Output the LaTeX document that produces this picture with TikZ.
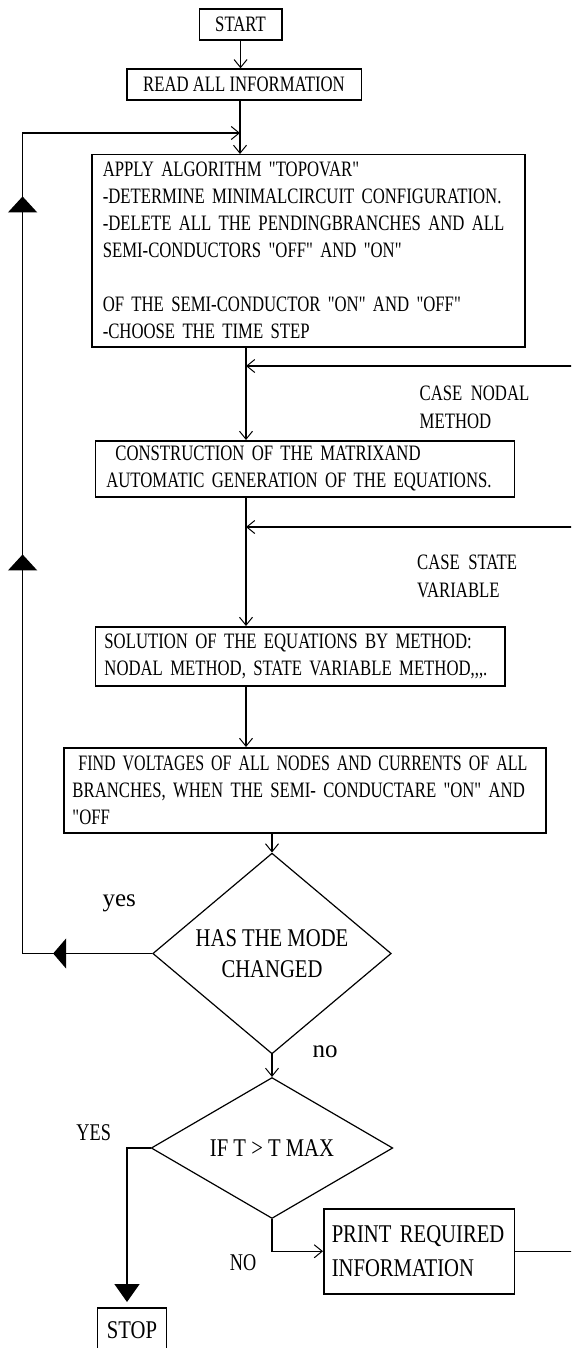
\documentclass[tikz,border=0pt]{standalone}
\usepackage{graphicx}
\usepackage{fontspec}
\setmainfont{Liberation Serif}
\newfontfamily\boxfont[FakeStretch=0.76]{Liberation Serif}
\newfontfamily\bigfont[FakeStretch=0.81]{Liberation Serif}
\usetikzlibrary{arrows.meta,shapes.geometric,decorations.markings}
\tikzset{
  line/.style={line width=1.5pt},
  conn/.style={line, -{Straight Barb[length=8pt,width=13pt,line width=1pt]}},
  box/.style={draw, line width=1.5pt, rectangle, anchor=north west, inner ysep=0pt,
    align=left, font=\boxfont\fontsize{22}{27}\selectfont},
  sbox/.style={draw, line width=1.5pt, rectangle, anchor=north west, inner sep=0pt,
    align=center, font=\boxfont\fontsize{22}{27}\selectfont},
  dec/.style={draw, diamond, line width=1.2pt, inner sep=0pt, align=center,
    font=\bigfont\fontsize{25.5}{31}\selectfont},
  lab/.style={inner sep=0pt, align=left, anchor=west, font=\boxfont\fontsize{22}{28}\selectfont},
  lowlab/.style={inner sep=0pt, font=\fontsize{25}{30}\selectfont},
  caplab/.style={inner sep=0pt, font=\boxfont\fontsize{24}{30}\selectfont},
  filltip/.style={-{Triangle[length=18pt,width=25pt]}}
}
\begin{document}
\begin{tikzpicture}[x=1pt,y=-1pt]
\useasboundingbox (0,0) rectangle (571,1348);
\clip (0,0) rectangle (571,1348);

% boxes
\node[sbox, minimum width=82.6pt, minimum height=31pt] (start) at (198.5,8.3) {START};
\node[sbox, minimum width=234.5pt, minimum height=31.2pt] (read) at (126,68.3) {READ ALL INFORMATION};
\node[box, text width=411.4pt, inner xsep=11pt, minimum height=192pt] (apply) at (91,154)
  {\mbox{APPLY ALGORITHM "TOPOVAR"}\\
   \mbox{-DETERMINE MINIMALCIRCUIT CONFIGURATION.}\\
   \mbox{-DELETE ALL THE PENDINGBRANCHES AND ALL}\\
   \mbox{SEMI-CONDUCTORS "OFF" AND "ON"}\\[27pt]
   \mbox{OF THE SEMI-CONDUCTOR "ON" AND "OFF"}\\
   \mbox{-CHOOSE THE TIME STEP}};
\node[box, text width=397pt, inner xsep=10.9pt, minimum height=56pt] (constr) at (94.7,440)
  {\mbox{\hspace*{9pt}CONSTRUCTION OF THE MATRIXAND}\\\mbox{AUTOMATIC GENERATION OF THE EQUATIONS.}};
\node[box, text width=391.7pt, inner xsep=9pt, minimum height=59pt] (sol) at (94.7,626)
  {\mbox{SOLUTION OF THE EQUATIONS BY METHOD:}\\\mbox{NODAL METHOD, STATE VARIABLE METHOD,,,.}};
\node[box, text width=464.6pt, inner xsep=8.7pt, minimum height=85pt] (find) at (63,747)
  {\mbox{\hspace*{6pt}\scalebox{0.955}[1]{FIND VOLTAGES OF ALL NODES AND CURRENTS OF ALL}}\\
   \mbox{BRANCHES, WHEN THE SEMI- CONDUCTARE "ON" AND}\\
   "OFF};
\node[box, font=\bigfont\fontsize{25.5}{34}\selectfont, text width=174.5pt, inner xsep=8pt,
  minimum height=85pt] (print) at (323,1208) {\mbox{PRINT REQUIRED}\\INFORMATION};
\node[sbox, font=\bigfont\fontsize{25.5}{30}\selectfont, minimum width=69pt, minimum height=44pt]
  (stop) at (96.7,1307) {STOP};

% decisions
\node[dec, minimum width=238.5pt, minimum height=177pt] (d1) at (272,953.5) {HAS THE MODE\\CHANGED};
\node[dec, minimum width=241.6pt, minimum height=135pt] (d2) at (272,1148) {IF T > T MAX};

% labels
\node[lab] (lnodal) at (419.5,407) {CASE\ \ NODAL\\METHOD};
\node[lab] (lstate) at (417,576.5) {CASE\ \ STATE\\VARIABLE};
\node[lowlab] (lyes) at (119.3,903) {yes};
\node[lowlab] (lno) at (325,1052) {no};
\node[caplab] (lYES) at (93.7,1132.5) {YES};
\node[caplab] (lNO) at (243,1262.5) {NO};

% helper coordinates
\coordinate (fb) at (240,133);
\coordinate (m1) at (246,366);
\coordinate (m2) at (246,527);
\coordinate (rx) at (576,1250);
\coordinate (sy) at (127,1300);

% main flow
\draw[conn] (start.south) -- (start.south |- read.north);
\draw[conn] (read.south -| fb) -- (apply.north -| fb);
\draw[conn] (apply.south -| m1) -- (constr.north -| m1);
\draw[conn] (constr.south -| m1) -- (sol.north -| m1);
\draw[conn] (sol.south -| m1) -- (find.north -| m1);
\draw[conn] (find.south -| d1.north) -- (d1.north);
\draw[conn] (d1.south) -- (d2.north);
\draw[conn] (d2.south) |- (print.west);
\draw[line, filltip, shorten >=5pt] (d2.west) -| (sy |- stop.north);

% left feedback loop
\draw[conn, postaction={decorate}, decoration={markings,
    mark=at position 99pt with {\arrow{Triangle[length=13pt,width=30pt]}},
    mark=at position 528.6pt with {\arrow{Triangle[length=16pt,width=29pt]}},
    mark=at position 886.6pt with {\arrow{Triangle[length=16pt,width=29pt]}}}]
  (d1.west) -- (22.6,953.5) -- (22.6,133) -- (fb);

% right feedback loop
\draw[conn] (print.east) -- (print.east -| rx) -- (rx |- m1) -- (m1);
\draw[conn] (rx |- m2) -- (m2);
\end{tikzpicture}
\end{document}
